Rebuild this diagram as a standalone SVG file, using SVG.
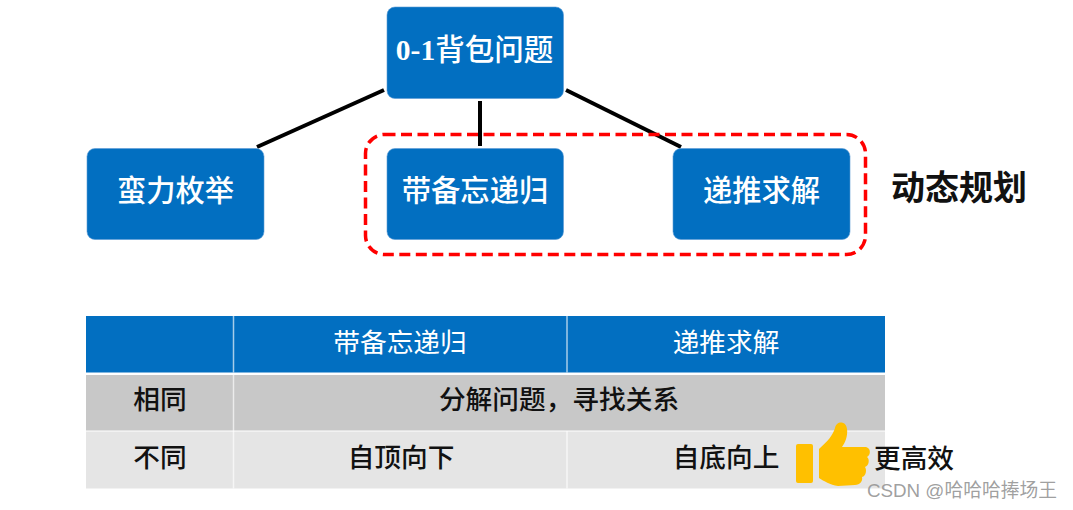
<svg xmlns="http://www.w3.org/2000/svg" width="1073" height="510" viewBox="0 0 1073 510">
<style>
text{font-family:"Liberation Sans","Noto Sans CJK SC",sans-serif;text-anchor:middle}
.node{fill:#026fc1;stroke:#5b9bd5;stroke-width:.6}
.nt{font-size:29.300px;font-weight:500;fill:#fff;font-family:"Noto Sans CJK SC",sans-serif}
.hd{font-size:26.700px;fill:#fff;font-family:"Noto Sans CJK SC",sans-serif}
.cell{font-size:26.700px;font-weight:500;fill:#111;font-family:"Noto Sans CJK SC",sans-serif}
.conn{stroke:#000;stroke-width:4;fill:none}
</style>
<rect width="1073" height="510" fill="#fff"/>
<g id="connectors">
<line class="conn" x1="257" y1="147" x2="384" y2="90"/>
<line class="conn" x1="480" y1="101" x2="480" y2="146"/>
<line class="conn" x1="566" y1="90" x2="681" y2="147"/>
</g>
<g id="node-root"><rect class="node" x="387" y="7" width="176.500" height="91.500" rx="8"/>
<text x="474.500" y="60" font-size="29.500" font-weight="700" fill="#fff" style="font-family:'Liberation Serif','Noto Sans CJK SC',serif">0-1<tspan style="font-family:'Noto Sans CJK SC',sans-serif" font-weight="500">背包问题</tspan></text></g>
<g id="node-brute"><rect class="node" x="87" y="148.500" width="177" height="91" rx="8"/><text class="nt" x="175.500" y="201">蛮力枚举</text></g>
<g id="node-memo"><rect class="node" x="387" y="148.500" width="176.500" height="91" rx="8"/><text class="nt" x="475" y="201">带备忘递归</text></g>
<g id="node-dp"><rect class="node" x="673" y="148.500" width="177" height="91" rx="8"/><text class="nt" x="761.500" y="201">递推求解</text></g>
<g id="group-dp">
<rect x="365.500" y="134.500" width="500" height="120" rx="19" fill="none" stroke="#f00" stroke-width="3.500" stroke-dasharray="11 5.500"/>
<text x="959" y="200" font-size="34" font-weight="700" fill="#111" style="font-family:'Noto Sans CJK SC',sans-serif">动态规划</text>
</g>
<g id="table">
<rect x="86" y="316" width="799" height="56.500" fill="#026fc1"/>
<rect x="86" y="375" width="799" height="55.500" fill="#c8c8c8"/>
<rect x="86" y="431.500" width="799" height="57" fill="#e5e5e5"/>
<g stroke="#fff" stroke-opacity=".65" stroke-width="1.500">
<line x1="233.500" y1="316" x2="233.500" y2="372.500"/>
<line x1="567" y1="316" x2="567" y2="372.500"/>
<line x1="233.500" y1="375" x2="233.500" y2="488.500"/>
<line x1="567" y1="431" x2="567" y2="488.500"/>
</g>
<text class="hd" x="400" y="352">带备忘递归</text>
<text class="hd" x="726" y="352">递推求解</text>
<text class="cell" x="160" y="409">相同</text>
<text class="cell" x="559" y="409">分解问题，寻找关系</text>
<text class="cell" x="160" y="467">不同</text>
<text class="cell" x="401" y="467">自顶向下</text>
<text class="cell" x="726" y="467">自底向上</text>
<text class="cell" x="914" y="468">更高效</text>
</g>
<g id="thumb" fill="#ffc000">
<rect x="796" y="444" width="17" height="39" rx="2"/>
<path d="M819 449 C828 441 833 435 835 428 C836 421 846 420 847 429 C848 436 845 443 842 447 L866 447 C871 448 871 455 867 457 C870 459 869 466 865 467 C867 470 866 476 862 477 C863 481 860 485 855 485 L838 486 C830 485 824 481 819 478 Z"/>
</g>
<text x="962" y="497" font-size="18.800" fill="#9a9a9a" fill-opacity=".95" style="font-family:'Liberation Sans','Noto Sans CJK SC',sans-serif">CSDN @哈哈哈捧场王</text>
</svg>
